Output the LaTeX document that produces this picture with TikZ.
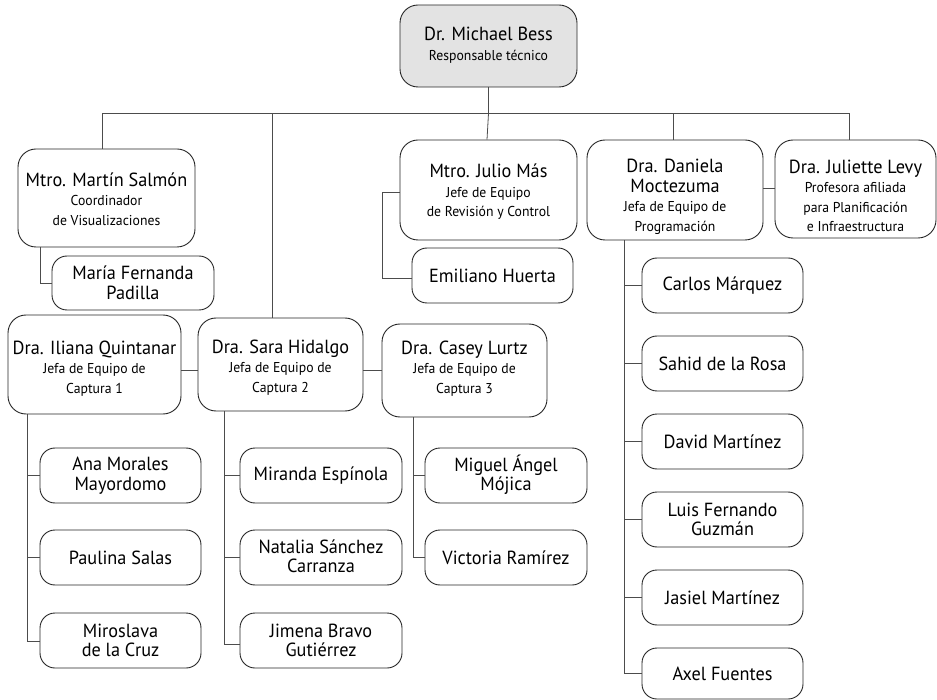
\documentclass[tikz,border=0pt]{standalone}
\usepackage{fontspec}
\setmainfont{PT Sans}[FakeStretch=0.96]
\newcommand{\nm}{\fontsize{19}{19.5}\selectfont}
\newcommand{\sbt}{\fontsize{14.3}{18.5}\selectfont}
\tikzset{
  box/.style={draw=black!85, line width=0.9pt, rounded corners=15pt, inner sep=0pt},
  bigbox/.style={box, rounded corners=18pt},
  txt/.style={align=center, inner sep=0pt, font=\nm},
  conn/.style={draw=black!70, line width=0.8pt},
}
% \ob{name}{extra}{x1}{y1}{x2}{y2}{dy}{text}
\newcommand{\ob}[8]{%
  \node[#2,minimum width={(#5-#3)*1pt},minimum height={(#6-#4)*1pt}] (#1) at ({(#3+#5)/2},{(#4+#6)/2}) {};
  \node[txt] (#1-t) at ([yshift={-(#7)*1pt}]#1.center) {#8};}
\begin{document}
\begin{tikzpicture}[x=1pt,y=-1pt]
\useasboundingbox (0,0) rectangle (937,700);
% top
\ob{bess}{bigbox,fill=black!11}{400}{5}{577}{87}{-1}{Dr. Michael Bess\\{\sbt Responsable técnico}}
% second row
\ob{martin}{bigbox}{18}{149}{195}{247}{1}{Mtro. Martín Salmón\\{\sbt Coordinador}\\{\sbt de Visualizaciones}}
\ob{maria}{box}{52}{256}{214}{310}{0}{María Fernanda\\Padilla}
\ob{julio}{bigbox}{400}{140}{577}{240}{2}{Mtro. Julio Más\\{\sbt Jefe de Equipo}\\{\sbt de Revisión y Control}}
\ob{emiliano}{box}{412}{248}{573}{303}{0}{Emiliano Huerta}
\ob{daniela}{bigbox}{587}{140}{763}{240}{7}{Dra. Daniela\\Moctezuma\\{\sbt Jefa de Equipo de}\\{\sbt Programación}}
\ob{juliette}{bigbox}{775}{140}{936}{238}{7}{Dra. Juliette Levy\\{\sbt Profesora afiliada}\\{\sbt para Planificación}\\{\sbt e Infraestructura}}
% Daniela team
\ob{carlos}{box}{642}{258}{803}{313}{0}{Carlos Márquez}
\ob{sahid}{box}{642}{336}{803}{391}{0}{Sahid de la Rosa}
\ob{david}{box}{642}{414}{803}{469}{0}{David Martínez}
\ob{luis}{box}{642}{492}{803}{547}{0}{Luis Fernando\\Guzmán}
\ob{jasiel}{box}{642}{570}{803}{625}{0}{Jasiel Martínez}
\ob{axel}{box}{642}{648}{803}{699}{0}{Axel Fuentes}
% capture teams
\ob{iliana}{bigbox}{8}{315}{181}{414}{4}{Dra. Iliana Quintanar\\{\sbt Jefa de Equipo de}\\{\sbt Captura 1}}
\ob{sara}{bigbox}{198}{318}{363}{411}{3}{Dra. Sara Hidalgo\\{\sbt Jefa de Equipo de}\\{\sbt Captura 2}}
\ob{casey}{bigbox}{382}{324}{547}{417}{-2}{Dra. Casey Lurtz\\{\sbt Jefa de Equipo de}\\{\sbt Captura 3}}
\ob{ana}{box}{40}{448}{201}{503}{0}{Ana Morales\\Mayordomo}
\ob{paulina}{box}{40}{530}{201}{585}{0}{Paulina Salas}
\ob{miroslava}{box}{40}{613}{201}{668}{0}{Miroslava\\de la Cruz}
\ob{miranda}{box}{240}{448}{402}{503}{0}{Miranda Espínola}
\ob{natalia}{box}{240}{530}{402}{585}{-1}{Natalia Sánchez\\Carranza}
\ob{jimena}{box}{240}{613}{402}{668}{0}{Jimena Bravo\\Gutiérrez}
\ob{miguel}{box}{425}{448}{587}{503}{-1}{Miguel Ángel\\Mójica}
\ob{victoria}{box}{425}{530}{587}{585}{0}{Victoria Ramírez}
% connectors
\coordinate (bar) at ([yshift=-26]bess.south);
\draw[conn] (bess.south) -- (bar);
\draw[conn] ([xshift=-4.5]martin.north) |- ([xshift=-6.5]juliette.north |- bar) -- ([xshift=-6.5]juliette.north);
\draw[conn] ([xshift=-8.5]sara.north) -- ([xshift=-8.5]sara.north |- bar);
\draw[conn] (bar) -- ([xshift=-1.5]julio.north);
\draw[conn] ([xshift=-2]daniela.north |- bar) -- ([xshift=-2]daniela.north);
\draw[conn] ([xshift=-66.5]martin.south) |- (maria.west);
\draw[conn] ([yshift=-2]julio.west) -- ++(-17,0) |- ([yshift=-2.5]emiliano.west);
\draw[conn] ([yshift=2]daniela.east) -- ([yshift=2]daniela.east -| juliette.west);
\draw[conn] ([yshift=-5.5]iliana.east) -- ([yshift=-5.5]iliana.east -| sara.west);
\draw[conn] ([yshift=-5.5]sara.east) -- ([yshift=-5.5]sara.east -| casey.west);
% team verticals
\coordinate (dv) at ([xshift=-51]daniela.south);
\draw[conn] (dv) |- (axel.west);
\foreach \n in {carlos,sahid,david,luis,jasiel} \draw[conn] (\n.west) -- (\n.west -| dv);
\coordinate (iv) at ([xshift=-67.5]iliana.south);
\draw[conn] (iv) |- ([yshift=-0.5]miroslava.west);
\foreach \n in {ana,paulina} \draw[conn] (\n.west) -- (\n.west -| iv);
\coordinate (sv) at ([xshift=-56.5]sara.south);
\draw[conn] (sv) |- ([yshift=-3.5]jimena.west);
\foreach \n in {miranda,natalia} \draw[conn] (\n.west) -- (\n.west -| sv);
\coordinate (cv) at ([xshift=-51.5]casey.south);
\draw[conn] (cv) |- (victoria.west);
\draw[conn] (miguel.west) -- (miguel.west -| cv);
\end{tikzpicture}
\end{document}
